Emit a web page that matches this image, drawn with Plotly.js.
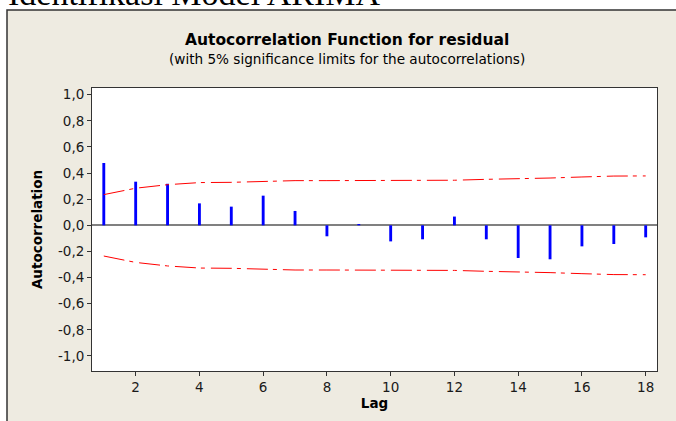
<!DOCTYPE html>
<html><head><meta charset="utf-8">
<script src="https://cdn.plot.ly/plotly-3.0.1.min.js"></script>
<style>html,body{margin:0;padding:0;background:#fff;overflow:hidden}#chart{width:676px;height:421px}</style>
</head><body><div id="chart"></div>
<script>
const lags = [1,2,3,4,5,6,7,8,9,10,11,12,13,14,15,16,17,18];
const acf = [0.477,0.334,0.318,0.168,0.143,0.227,0.110,-0.084,0.010,-0.123,-0.107,0.067,-0.107,-0.250,-0.260,-0.161,-0.143,-0.092];
const upperLimit = [0.235,0.284,0.311,0.327,0.329,0.336,0.342,0.342,0.342,0.342,0.343,0.345,0.352,0.355,0.362,0.370,0.377,0.378];
const lowerLimit = [-0.235,-0.284,-0.311,-0.327,-0.329,-0.336,-0.342,-0.342,-0.342,-0.342,-0.343,-0.345,-0.352,-0.355,-0.362,-0.370,-0.377,-0.378];
const yTickVals = [-1,-0.8,-0.6,-0.4,-0.2,0,0.2,0.4,0.6,0.8,1];
const yTickLabels = ['-1,0','-0,8','-0,6','-0,4','-0,2','0,0','0,2','0,4','0,6','0,8','1,0'];
const xTickVals = [2,4,6,8,10,12,14,16,18];
const xTickLabels = ['2','4','6','8','10','12','14','16','18'];
const headingText = 'Identifikasi Model ARIMA';
const titleText = 'Autocorrelation Function for residual';
const subtitleText = '(with 5% significance limits for the autocorrelations)';

const W = 676, H = 421, L = 92, R = 19, T = 88, B = 50;
const pw = W - L - R, ph = H - T - B;
const px = v => (v - L) / pw;
const py = v => (H - B - v) / ph;
const FONT = 'DejaVu Sans';

const traces = [
  {type:'bar', x:lags, y:acf, width:0.09, marker:{color:'#0000ff', line:{width:0}}, hoverinfo:'skip'},
  {type:'scatter', mode:'lines', x:lags, y:upperLimit, line:{color:'#ff0000', width:1, dash:'21px,5px,4px,6px'}, hoverinfo:'skip'},
  {type:'scatter', mode:'lines', x:lags, y:lowerLimit, line:{color:'#ff0000', width:1, dash:'21px,5px,4px,6px'}, hoverinfo:'skip'}
];

const layout = {
  width: W, height: H,
  margin: {l:L, r:R, t:T, b:B, pad:0},
  paper_bgcolor: '#ffffff',
  plot_bgcolor: '#ffffff',
  showlegend: false,
  font: {family: FONT, size: 13.5, color: '#1a1a1a'},
  xaxis: {
    range: [0.63, 18.355],
    tickvals: xTickVals, ticktext: xTickLabels,
    ticks: 'outside', ticklen: 4, tickwidth: 1, tickcolor: '#333',
    showgrid: false, zeroline: false,
    showline: true, mirror: true, linecolor: '#333', linewidth: 1,
    tickfont: {family: FONT, size: 13.5, color: '#1a1a1a'},
    title: {text: '<b>Lag</b>', font: {family: FONT, size: 13.5, color: '#000'}, standoff: 3},
    automargin: false
  },
  yaxis: {
    range: [-1.115, 1.051],
    tickvals: yTickVals, ticktext: yTickLabels,
    ticks: 'outside', ticklen: 4, tickwidth: 1, tickcolor: '#333',
    showgrid: false,
    zeroline: true, zerolinecolor: '#808080', zerolinewidth: 2,
    showline: true, mirror: true, linecolor: '#333', linewidth: 1,
    tickfont: {family: FONT, size: 13.5, color: '#1a1a1a'},
    title: {text: '<b>Autocorrelation</b>', font: {family: FONT, size: 13.5, color: '#000'}, standoff: 12},
    automargin: false
  },
  shapes: [
    {type:'rect', xref:'paper', yref:'paper', x0:px(7), x1:px(700), y0:py(440), y1:py(10),
     fillcolor:'#eeebe1', line:{color:'#333', width:1.5}, layer:'below'},
    {type:'rect', xref:'paper', yref:'paper', x0:0, x1:1, y0:0, y1:1,
     fillcolor:'#ffffff', line:{width:0}, layer:'below'}
  ],
  annotations: [
    {text: '<b>' + titleText + '</b>', xref:'paper', yref:'paper', x:px(347), y:py(40), xanchor:'center', yanchor:'middle', showarrow:false, font:{family:FONT, size:15.5, color:'#000'}},
    {text: subtitleText, xref:'paper', yref:'paper', x:px(347), y:py(59), xanchor:'center', yanchor:'middle', showarrow:false, font:{family:FONT, size:13.6, color:'#000'}},
    {text: headingText, xref:'paper', yref:'paper', x:px(6), y:py(14), xanchor:'left', yanchor:'bottom', showarrow:false, font:{family:'Liberation Serif', size:34, color:'#000'}}
  ]
};

Plotly.newPlot('chart', traces, layout, {staticPlot:true, displayModeBar:false});
</script></body></html>
